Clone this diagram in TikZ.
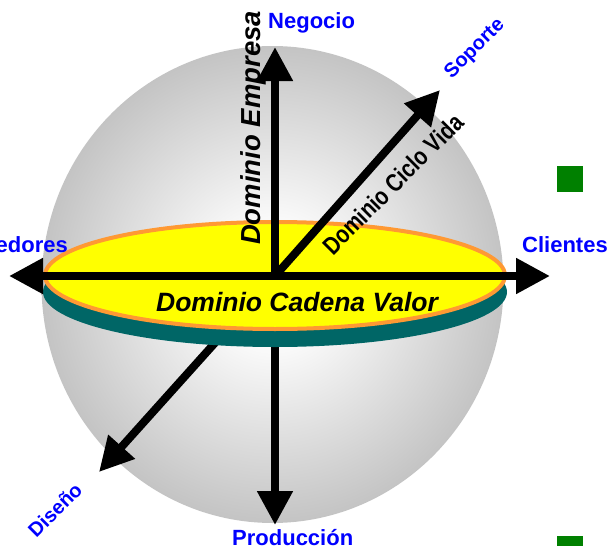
\documentclass[tikz,border=0pt]{standalone}
\usepackage{fontspec}
\setmainfont{Liberation Sans}
\usetikzlibrary{arrows.meta}
\definecolor{amarillo}{RGB}{255,255,0}
\definecolor{naranja}{RGB}{255,153,51}
\definecolor{petroleo}{RGB}{0,102,102}
\definecolor{verde}{RGB}{0,128,0}
\pgfdeclareradialshading{esfera}{\pgfpoint{0bp}{0bp}}{color(0bp)=(white); color(5bp)=(white); color(30bp)=(gray!58); color(50bp)=(gray!64)}

\begin{document}
\begin{tikzpicture}[
    x=1pt, y=-1pt,
    eje/.style={line width=8pt, -{Triangle[length=34pt, width=34pt]}},
    ejedoble/.style={line width=8pt, {Triangle[length=34pt, width=34pt]}-{Triangle[length=34pt, width=34pt]}},
    polo/.style={font=\fontsize{22}{26}\selectfont\bfseries, text=blue, inner sep=0pt},
    diag/.style={polo, font=\fontsize{20}{24}\selectfont\bfseries, rotate=45},
    dominio/.style={font=\fontsize{26.5}{30}\selectfont\bfseries\itshape, inner sep=0pt},
    bala/.style={rectangle, fill=verde, minimum size=26pt, inner sep=0pt}
]
\useasboundingbox (0,0) rectangle (616,546);
\clip (0,0) rectangle (616,546);

% --- Esfera ---
\shade[shading=esfera] (272.5,284.5) ellipse [x radius=231pt, y radius=238.5pt];

% --- Puntos de los ejes ---
\coordinate (o) at (275,276);
\coordinate (negocio) at (275,47);
\coordinate (produccion) at (275,525);
\coordinate (soporte) at (440,90);
\coordinate (diseno) at (99,472);
\coordinate (proveedores) at (9,276);
\coordinate (clientes) at (550,276);

% --- Ejes detras del disco ---
\draw[eje] (o) -- (produccion);
\draw[eje] (o) -- (diseno);

% --- Disco ---
\fill[petroleo] (275,292) ellipse [x radius=232pt, y radius=55pt];
\filldraw[fill=amarillo, draw=naranja, line width=4pt] (275,275.5) ellipse [x radius=230pt, y radius=53.5pt];

% --- Ejes delante ---
\draw[ejedoble] (proveedores) -- (clientes);
\draw[eje] (o) -- (negocio);
\draw[eje] (o) -- (soporte);

% --- Polos ---
\node[polo, anchor=base west] (lneg) at (268,28) {Negocio};
\node[polo, anchor=base west] (lcli) at (522,252) {Clientes};
\node[polo, anchor=base east] (lprov) at (68,252) {Proveedores};
\node[polo, anchor=base west] (lprod) at (232,545) {Producción};
\node[diag] (lsop) at (475,49) {Soporte};
\node[diag] (ldis) at (55,510) {Diseño};

% --- Dominios ---
\node[dominio, font=\fontsize{27.5}{31}\selectfont\bfseries\itshape, rotate=90] (empresa) at (253,128) {Dominio Empresa};
\node[dominio] (valor) at (297,302) {Dominio Cadena Valor};
\node[dominio, font=\fontsize{25}{29}\selectfont\bfseries, rotate=45] (ciclo) at (393,184) {\scalebox{0.82}[1]{Dominio Ciclo Vida}};

% --- Viñetas ---
\node[bala] (b1) at (570,179) {};
\node[bala] (b2) at (570,549) {};

\end{tikzpicture}
\end{document}
